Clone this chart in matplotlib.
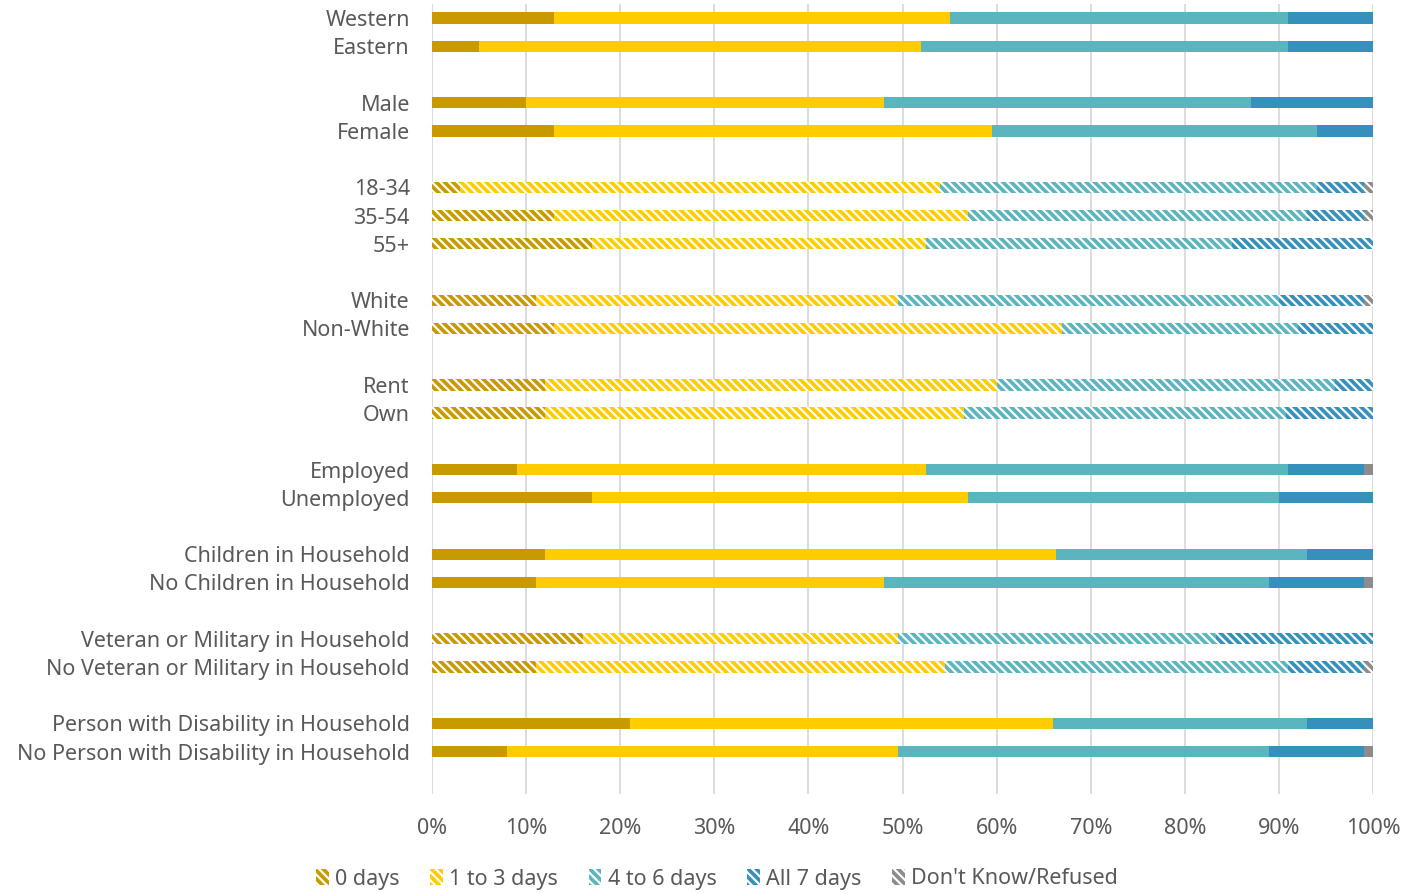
import matplotlib
matplotlib.use('Agg')
import matplotlib.pyplot as plt
import numpy as np
from matplotlib.patches import Patch

plt.rcParams['font.family'] = ['Noto Sans', 'DejaVu Sans']
plt.rcParams['hatch.linewidth'] = 1.6

# categories, top to bottom; None = blank spacer row
categories = ['Western', 'Eastern', None,
              'Male', 'Female', None,
              '18-34', '35-54', '55+', None,
              'White', 'Non-White', None,
              'Rent', 'Own', None,
              'Employed', 'Unemployed', None,
              'Children in Household', 'No Children in Household', None,
              'Veteran or Military in Household', 'No Veteran or Military in Household', None,
              'Person with Disability in Household', 'No Person with Disability in Household', None]

hatched = ['18-34', '35-54', '55+', 'White', 'Non-White', 'Rent', 'Own',
           'Veteran or Military in Household', 'No Veteran or Military in Household']

series = ['0 days', '1 to 3 days', '4 to 6 days', 'All 7 days', "Don't Know/Refused"]
colors = ['#C99A00', '#FFCC00', '#5AB5BF', '#3591BC', '#8C8C8C']

# percent values per category (0 days, 1-3, 4-6, all 7, DK/Refused)
values = {
    'Western': [13, 42, 36, 9, 0],
    'Eastern': [5, 47, 39, 9, 0],
    'Male': [10, 38, 39, 13, 0],
    'Female': [13, 46.5, 34.5, 6, 0],
    '18-34': [3, 51, 40, 5, 1],
    '35-54': [13, 44, 36, 6, 1],
    '55+': [17, 35.5, 32.5, 15, 0],
    'White': [11, 38.5, 40.5, 9, 1],
    'Non-White': [13, 54, 25, 8, 0],
    'Rent': [12, 48, 36, 4, 0],
    'Own': [12, 44.5, 34.3, 9.2, 0],
    'Employed': [9, 43.5, 38.5, 8, 1],
    'Unemployed': [17, 40, 33, 10, 0],
    'Children in Household': [12, 54.3, 26.7, 7, 0],
    'No Children in Household': [11, 37, 41, 10, 1],
    'Veteran or Military in Household': [16, 33.5, 33.8, 16.7, 0],
    'No Veteran or Military in Household': [11, 43.5, 36.5, 8, 1],
    'Person with Disability in Household': [21, 45, 27, 7, 0],
    'No Person with Disability in Household': [8, 41.5, 39.5, 10, 1],
}

HATCH = '\\\\\\\\'
FS = 15.5

fig = plt.figure(figsize=(14.2, 8.94), dpi=100)
ax = fig.add_axes([432/1420, 1-794/894, (1373-432)/1420, 790/894])

for i, cat in enumerate(categories):
    if cat is None:
        continue
    left = 0
    hatch = HATCH if cat in hatched else None
    for j, v in enumerate(values[cat]):
        if v > 0:
            ax.barh(i, v/100., left=left/100., height=0.4, color=colors[j],
                    edgecolor='white' if hatch else colors[j], linewidth=0, hatch=hatch, zorder=3)
        left += v

ax.set_ylim(len(categories)-0.5, -0.5)
ax.set_xlim(0, 1)
ax.set_yticks([i for i, c in enumerate(categories) if c is not None])
ax.set_yticklabels([c for c in categories if c is not None], fontsize=FS, color='#595959')
ax.set_xticks(np.arange(0, 1.01, 0.1))
ax.set_xticklabels(['%d%%' % (t*100) for t in np.arange(0, 1.01, 0.1)], fontsize=FS, color='#595959')
ax.tick_params(length=0, axis='y', pad=16)
ax.tick_params(length=0, axis='x', pad=17)
ax.grid(axis='x', color='#D9D9D9', linewidth=1.3, zorder=0)
for s in ax.spines.values():
    s.set_visible(False)

handles = [Patch(facecolor=c, edgecolor='white', hatch=HATCH, linewidth=0) for c in colors]
fig.legend(handles, series, loc='center', bbox_to_anchor=(717/1420, 1-879/894), ncol=5,
           frameon=False, fontsize=FS, labelcolor='#595959', handlelength=0.6, handleheight=0.8,
           handletextpad=0.3, columnspacing=1.4)

fig.savefig('out.png', dpi=100)
